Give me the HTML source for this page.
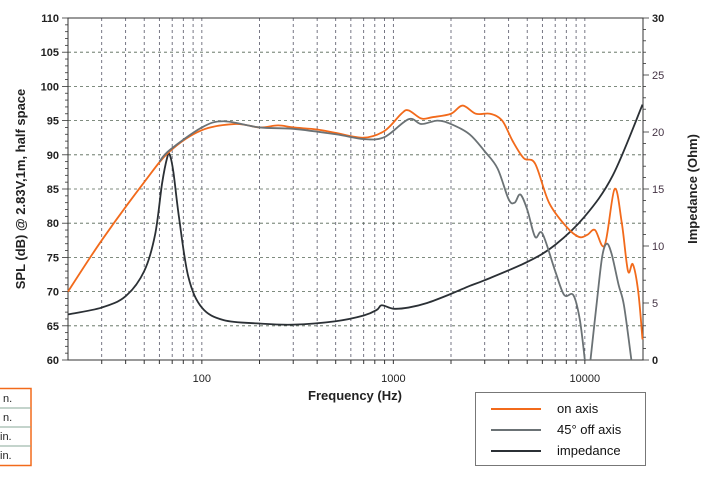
<!DOCTYPE html>
<html><head><meta charset="utf-8"><style>
body{margin:0;background:#fff;width:714px;height:482px;overflow:hidden}
svg{display:block;font-family:"Liberation Sans",Arial,sans-serif}
</style></head><body>
<svg id="s" width="714" height="482" xmlns="http://www.w3.org/2000/svg"></svg>
<script>
const L=68,D=191.5,T=18,B=360,R=643;
const X=f=>L+D*Math.log10(f/20);
const Yd=d=>B-(d-60)*(B-T)/50;
const Yo=o=>B-o*(B-T)/30;
let h='';
for(let dec=10;dec<=10000;dec*=10)for(let m=1;m<10;m++){const f=dec*m;if(f<=20||f>=20000)continue;
const x=X(f);h+=`<line x1="${x}" y1="${T}" x2="${x}" y2="${B}" stroke="#556" stroke-width="0.8" stroke-dasharray="3,3"/>`;
h+=`<line x1="${x}" y1="${B}" x2="${x}" y2="${B+4}" stroke="#333"/>`;}
for(let d=65;d<=105;d+=5){const y=Yd(d);h+=`<line x1="${L}" y1="${y}" x2="${R}" y2="${y}" stroke="#565" stroke-width="0.8" stroke-dasharray="3,3"/>`;}
for(let d=60;d<=110;d++){const y=Yd(d);h+=`<line x1="${L-(d%5?3:6)}" y1="${y}" x2="${L}" y2="${y}" stroke="#333" stroke-width="0.8"/>`;
if(d%5==0)h+=`<text x="${L-9}" y="${y+4}" font-size="11" text-anchor="end" font-weight="bold" fill="#222">${d}</text>`;}
for(let o=0;o<=30;o++){const y=Yo(o);h+=`<line x1="${R}" y1="${y}" x2="${R+(o%5?3:6)}" y2="${y}" stroke="#333" stroke-width="0.8"/>`;
if(o%5==0)h+=`<text x="${R+9}" y="${y+4}" font-size="11" fill="${o==0||o==30?'#222':'#434'}" ${o==0||o==30?'font-weight="bold"':''}>${o}</text>`;}
h+=`<rect x="${L}" y="${T}" width="${R-L}" height="${B-T}" fill="none" stroke="#333"/>`;
[[100,'100'],[1000,'1000'],[10000,'10000']].forEach(([f,t])=>h+=`<text x="${X(f)}" y="382" font-size="11" text-anchor="middle" fill="#222">${t}</text>`);
h+=`<text x="355" y="400" font-size="13" font-weight="bold" text-anchor="middle" fill="#222">Frequency (Hz)</text>`;
h+=`<text transform="translate(25,189) rotate(-90)" font-size="13" font-weight="bold" text-anchor="middle" fill="#222">SPL (dB) @ 2.83V,1m, half space</text>`;
h+=`<text transform="translate(697,189) rotate(-90)" font-size="13" font-weight="bold" text-anchor="middle" fill="#222">Impedance (Ohm)</text>`;
function path(pts,fy){
 const p=pts.map(([f,v])=>[X(f),fy(v)]);
 let s=`M${p[0][0]},${p[0][1]}`;
 for(let i=0;i<p.length-1;i++){const p0=p[i-1]||p[i],p1=p[i],p2=p[i+1],p3=p[i+2]||p2;
 s+=`C${p1[0]+(p2[0]-p0[0])/6},${p1[1]+(p2[1]-p0[1])/6} ${p2[0]-(p3[0]-p1[0])/6},${p2[1]-(p3[1]-p1[1])/6} ${p2[0]},${p2[1]}`;}
 return s;}
const imp=[[20,4],[30,4.6],[40,5.6],[50,7.8],[57,11],[62,15.5],[66,17.8],[68,18],[71,16.5],[76,12.5],[85,7.3],[100,4.6],[130,3.5],[200,3.2],[300,3.1],[500,3.4],[700,3.9],[820,4.4],[870,4.8],[1000,4.5],[1200,4.6],[1500,5],[2000,5.8],[2500,6.5],[3000,7],[5000,8.6],[7000,10.1],[10000,12.6],[14000,16.2],[20000,22.4]];
const off=[[60,89],[68,90.7],[100,94],[130,94.9],[200,94],[300,93.8],[500,93],[700,92.3],[900,92.6],[1200,95.2],[1400,94.5],[1700,95],[2000,94.5],[2500,93],[3000,90.5],[3500,88],[4000,83.5],[4300,83],[4600,84.2],[5000,82],[5500,78],[6000,78.5],[7000,73],[7800,69.5],[8700,69.5],[9400,66],[10000,60]];
const off2=[[10700,60],[11500,68],[12300,75],[13000,77],[13800,75.5],[15000,71],[16000,68],[17500,60]];
const on=[[20,70],[30,77.5],[50,86],[68,90.5],[100,93.6],[150,94.5],[200,94],[250,94.3],[300,94],[400,93.7],[500,93.2],[700,92.5],[900,93.5],[1100,96],[1200,96.5],[1400,95.3],[1600,95.5],[2000,96],[2300,97.2],[2700,96],[3200,96],[3700,95],[4200,92],[4800,89.5],[5500,88.7],[6500,83],[8000,79.5],[9300,78],[10300,78.3],[11300,79],[12700,76.8],[14300,85],[15600,80],[16800,73],[17800,74],[19000,70],[20000,63]];
h+=`<path d="${path(imp,Yo)}" fill="none" stroke="#2b3035" stroke-width="1.8"/>`;
h+=`<path d="${path(on,Yd)}" fill="none" stroke="#f26a1b" stroke-width="1.8"/>`;
h+=`<path d="${path(off,Yd)}" fill="none" stroke="#6b7275" stroke-width="1.8"/>`;
h+=`<path d="${path(off2,Yd)}" fill="none" stroke="#6b7275" stroke-width="1.8"/>`;
h+=`<rect x="475.5" y="392.5" width="170" height="73" fill="#fff" stroke="#777"/>`;
[['on axis','#f26a1b',410],['45° off axis','#6b7275',431],['impedance','#2b3035',452]].forEach(([t,c,y])=>{
h+=`<line x1="491" y1="${y-1}" x2="541" y2="${y-1}" stroke="${c}" stroke-width="2"/><text x="557" y="${y+3}" font-size="13" fill="#111">${t}</text>`;});
h+=`<rect x="-2" y="388.5" width="33" height="77" fill="#fff" stroke="#f26a1b" stroke-width="1.5"/>`;
[408,427,446].forEach(y=>h+=`<line x1="0" y1="${y}" x2="31" y2="${y}" stroke="#8a9" stroke-width="1"/>`);
[['n.',3,402],['n.',3,421],['in.',0,440],['in.',0,459]].forEach(([t,x,y])=>h+=`<text x="${x}" y="${y}" font-size="11" fill="#222">${t}</text>`);
document.getElementById('s').innerHTML=h;
</script>
</body></html>
